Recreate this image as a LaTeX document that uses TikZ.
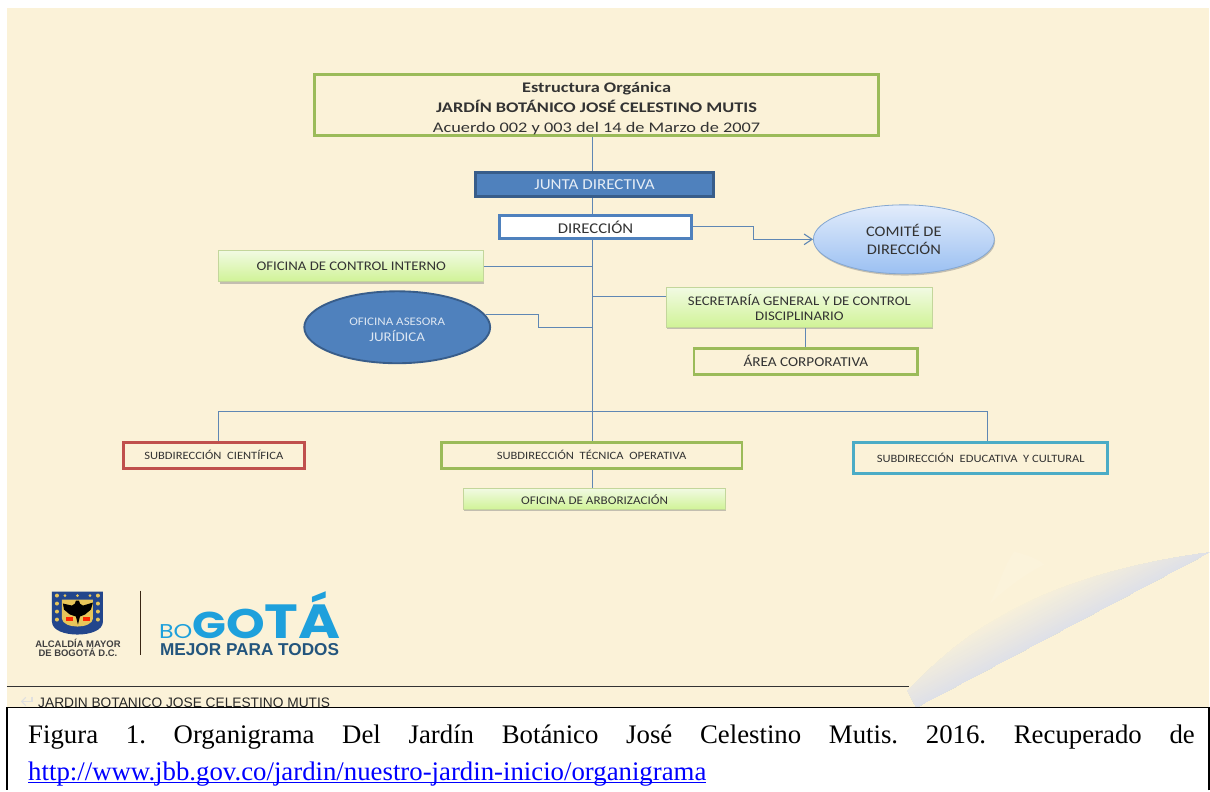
\documentclass[tikz,border=0pt]{standalone}
\usepackage{fontspec}
\setmainfont{Liberation Serif}
\newfontfamily\labelfont[FakeStretch=1.12]{Carlito}
\newfontfamily\titlefont[FakeStretch=1.25]{Carlito}
\newfontfamily\arialfont{Liberation Sans}
\newfontfamily\logofont[FakeStretch=1.19]{Poppins}
\usetikzlibrary{shapes.geometric,arrows.meta,shadows,calc}
\definecolor{cream}{RGB}{251,242,216}
\definecolor{leaf}{RGB}{155,187,89}
\definecolor{limetop}{RGB}{241,250,226}
\definecolor{limebot}{RGB}{208,243,150}
\definecolor{steel}{RGB}{79,129,189}
\definecolor{steeldark}{RGB}{56,93,138}
\definecolor{wire}{RGB}{95,135,180}
\definecolor{brick}{RGB}{192,80,77}
\definecolor{teal2}{RGB}{75,172,198}
\definecolor{curlgray}{RGB}{222,224,232}
\definecolor{skyblue}{RGB}{30,160,220}
\definecolor{navy2}{RGB}{35,85,125}
\definecolor{skytop}{RGB}{226,236,251}
\definecolor{skybot}{RGB}{155,192,242}
\definecolor{shieldblue}{RGB}{35,70,140}
\definecolor{shieldgold}{RGB}{232,198,90}

\begin{document}
\begin{tikzpicture}[
    x=0.75pt,y=-0.75pt,
    size/.style args={#1/#2}{
        minimum width=#1*0.75pt,
        minimum height=#2*0.75pt,
        inner sep=0pt,
    },
    chartlabel/.style ={
        font=\labelfont\fontsize{9.9}{11.2}\selectfont,
        text=black!80,
        align=center,
    },
    sublabel/.style ={
        font=\labelfont\fontsize{8.4}{11}\selectfont,
    },
    framed/.style ={
        rectangle,
        chartlabel,
        draw=#1,
        line width=2.2pt,
    },
    limebox/.style ={
        rectangle,
        chartlabel,
        draw=leaf!60,
        line width=0.6pt,
        top color=limetop,
        bottom color=limebot,
        drop shadow={shadow xshift=0.6pt,shadow yshift=-1.3pt,opacity=0.45},
    },
    wireline/.style ={
        draw=wire,
        line width=0.8pt,
    },
    ]
    % page
    \fill[white] (0,0) rectangle (1210,791);
    \fill[cream] (7,8) rectangle (1210,708);

    % paper curl
    \coordinate (curlA) at (917,708);
    \coordinate (curlB) at (1210,553);
    \begin{scope}
        \clip (892,708) .. controls (930,668) and (960,640) .. (1000,618)
            .. controls (1060,582) and (1140,562) .. (1210,553) -- (curlB) -- (curlA) -- cycle;
        \foreach \i in {0,...,30}{
            \pgfmathsetmacro{\d}{48-1.6*\i}
            \pgfmathtruncatemacro{\p}{\i*100/30}
            \fill[curlgray!\p!cream] (curlA) -- (curlB)
                -- ++(-0.468*\d,-0.885*\d) -- ($(917,708)+(-0.468*\d,-0.885*\d)$) -- cycle;
        }
    \end{scope}
    \fill[white,opacity=0.08] (1015,552) .. controls (1030,556) and (1040,560) .. (1045,565)
        .. controls (1025,575) and (1005,590) .. (990,605) .. controls (1000,585) and (1005,565) .. (1015,552) -- cycle;

    % boxes
    \node[framed=leaf,size=565/61,font=\titlefont\fontsize{11}{15}\selectfont] (titulo) at (597,105.5)
        {\rule{0pt}{12pt}\textbf{Estructura Orgánica}\\ \textbf{JARDÍN BOTÁNICO JOSÉ CELESTINO MUTIS}\\ Acuerdo 002 y 003 del 14 de Marzo de 2007};
    \node[framed=steeldark,size=238/24,fill=steel,text=white!85!steel,font=\labelfont\fontsize{11.4}{12}\selectfont] (junta) at (595,184.5) {JUNTA DIRECTIVA};
    \node[framed=steel,size=192/23,fill=white,font=\labelfont\fontsize{11.2}{12}\selectfont] (direccion) at (596,227) {DIRECCIÓN};
    \node[limebox,size=265/31] (control) at (351.5,266.5) {OFICINA DE CONTROL INTERNO};
    \node[ellipse,draw=steeldark,line width=1.4pt,fill=steel,size=186/72,text=white!80!steel,align=center,
        font=\labelfont\fontsize{8.7}{12}\selectfont] (asesora) at (397.5,327.5) {\rule{0pt}{9pt}OFICINA ASESORA\\ {\fontsize{10}{12}\selectfont JURÍDICA}};
    \node[ellipse,draw=steel!70,line width=0.6pt,top color=skytop,bottom color=skybot,
        drop shadow={shadow xshift=0.6pt,shadow yshift=-1.3pt,opacity=0.45},
        size=181/69,chartlabel,font=\labelfont\fontsize{11}{13.4}\selectfont] (comite) at (904.5,239.5) {COMITÉ DE\\ DIRECCIÓN};
    \node[limebox,size=266/40] (secretaria) at (800,308) {SECRETARÍA GENERAL Y DE CONTROL\\ DISCIPLINARIO};
    \node[framed=leaf,size=224/26,font=\labelfont\fontsize{10.2}{12}\selectfont] (area) at (806.5,361.5) {ÁREA CORPORATIVA};
    \node[framed=brick,size=181/26,sublabel] (cientifica) at (214,455.5) {SUBDIRECCIÓN\ \ CIENTÍFICA};
    \node[framed=leaf,size=301/26,sublabel] (tecnica) at (592,455.5) {SUBDIRECCIÓN\ \ TÉCNICA\ \ OPERATIVA};
    \node[framed=teal2,size=254/31,sublabel] (educativa) at (981.5,458) {SUBDIRECCIÓN\ \ EDUCATIVA\ \ Y CULTURAL};
    \node[limebox,size=262/21,font=\labelfont\fontsize{8.8}{11}\selectfont] (arborizacion) at (595,499.5) {OFICINA DE ARBORIZACIÓN};

    % trunk
    \coordinate (trunk) at (593,412);
    \coordinate (ramaC) at (219,412);
    \coordinate (ramaE) at (988,412);
    \coordinate (ramaA) at (539,328);
    \coordinate (ramaD) at (754,240);
    \draw[wireline] (titulo.south -| trunk) -- (junta.north -| trunk);
    \draw[wireline] (junta.south -| trunk) -- (direccion.north -| trunk);
    \draw[wireline] (direccion.south -| trunk) -- (tecnica.north -| trunk);
    \draw[wireline] (cientifica.north -| ramaC) -- (ramaC) -- (ramaE) -- (educativa.north -| ramaE);
    \draw[wireline] (control.east) -- (control.east -| trunk);
    \draw[wireline] (secretaria.west |- 0,297) -- (trunk |- 0,297);
    \draw[wireline] (asesora.8.5) -| (ramaA) -- (ramaA -| trunk);
    \draw[wireline,-{Straight Barb[length=6pt,width=8pt]}] (direccion.east) -| (comite.west -| ramaD) -- (comite.west);
    \draw[wireline] (secretaria.south -| area) -- (area.north);
    \draw[wireline] (tecnica.south -| trunk) -- (arborizacion.north -| trunk);

    % logo
    \fill[shieldblue] (52,592) -- (103,592) -- (103,622) .. controls (103,631) and (90,635) .. (77.5,635)
        .. controls (65,635) and (52,631) .. (52,622) -- cycle;
    \fill[shieldgold] (62,600) -- (93,600) -- (93,619) .. controls (93,624) and (85,627) .. (77.5,627)
        .. controls (70,627) and (62,624) .. (62,619) -- cycle;
    \foreach \gy in {596,604,612,620}{
        \fill[shieldgold] (57,\gy) circle (2);
        \fill[shieldgold] (98,\gy) circle (2);
    }
    \foreach \gx in {65,77.5,90}{
        \fill[shieldgold] (\gx,596) circle (1.5);
    }
    \fill[black] (76,601) -- (79,601) -- (80,604) -- (83,606) -- (93,603) -- (91,610) -- (85,615) -- (80,617)
        -- (78,625) -- (76,617) -- (70,615) -- (64,610) -- (63,604) -- (72,606) -- (75,604) -- cycle;
    \fill[red!70!orange] (66,617) rectangle (73,621);
    \fill[red!70!orange] (83,617) rectangle (90,621);
    \node[font=\arialfont\bfseries\fontsize{7.1}{7}\selectfont,text=black!75,align=center,inner sep=0pt] (alcaldia) at (78,648)
        {ALCALDÍA MAYOR\\ DE BOGOTÁ D.C.};
    \draw[black!70!brown,line width=0.9pt] (140.5,591) -- (140.5,655);
    \node[anchor=base west,inner sep=0pt,text=skyblue,font=\logofont] (bogota) at (159,639)
        {{\fontsize{15}{15}\selectfont BO}{\fontsize{28}{28}\selectfont\bfseries G}{\fontsize{31}{31}\selectfont\bfseries O}{\fontsize{36}{36}\selectfont\bfseries TÁ}};
    \node[anchor=base west,inner sep=0pt,text=navy2,font=\arialfont\bfseries\fontsize{12.9}{14}\selectfont] (mejor) at (160,656)
        {MEJOR PARA TODOS};

    % footer
    \draw[black!80,line width=0.8pt] (7,687) -- (910,687);
    \draw[black!12,line width=0.8pt,-{Straight Barb}] (32,697) -- (32,702) -- (21,702);
    \node[anchor=base west,inner sep=0pt,text=black!85,font=\arialfont\fontsize{10.3}{12}\selectfont] (pie) at (38,708)
        {JARDIN BOTANICO JOSE CELESTINO MUTIS};
    \fill[white] (7,708) rectangle (1210,791);
    \draw[black,line width=1.3pt] (1210,791) -- (1210,708) -- (7,708) -- (7,791);
    \node[anchor=north west,inner sep=0pt,text width=875.5pt,align=justify,
        font=\fontsize{20.1}{27.7}\selectfont] (figura) at (28,725)
        {\frenchspacing Figura 1. Organigrama Del Jardín Botánico José Celestino Mutis. 2016. Recuperado de\linebreak
        \textcolor{blue}{\underline{\smash{http://www.jbb.gov.co/jardin/nuestro-jardin-inicio/organigrama}}}};
    \useasboundingbox (0,0) rectangle (1210,791);
\end{tikzpicture}
\end{document}
